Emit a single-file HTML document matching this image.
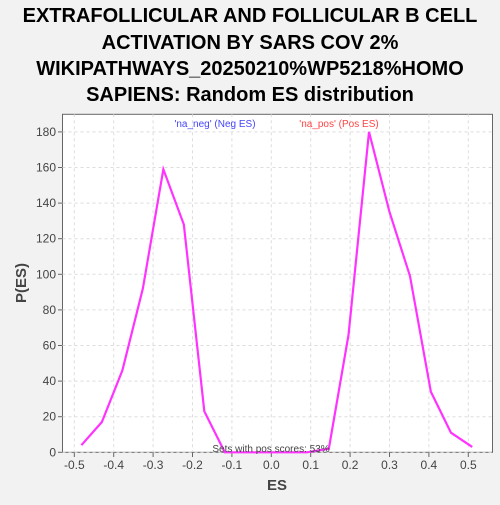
<!DOCTYPE html>
<html><head><meta charset="utf-8"><style>
body{margin:0;background:#f2f2f2;width:500px;height:500px;overflow:hidden;font-family:"Liberation Sans",sans-serif}
</style></head><body>
<svg width="500" height="500" style="font-family:'Liberation Sans',sans-serif">
<g font-weight="bold" font-size="20" text-anchor="middle" fill="#000">
<text x="250" y="22">EXTRAFOLLICULAR AND FOLLICULAR B CELL</text>
<text x="250" y="49">ACTIVATION BY SARS COV 2%</text>
<text x="250" y="75">WIKIPATHWAYS_20250210%WP5218%HOMO</text>
<text x="250" y="101">SAPIENS: Random ES distribution</text>
</g>
<rect x="62.5" y="114.3" width="430" height="338" fill="#fff" stroke="#666"/>
<g id="grid"></g>
<g id="axes"></g>
<polyline id="line" fill="none" stroke="#ff33ff" stroke-width="2.2"/>
<text x="215" y="127" font-size="10" fill="#4444ff" text-anchor="middle">'na_neg' (Neg ES)</text>
<text x="339" y="127" font-size="10" fill="#ff4444" text-anchor="middle">'na_pos' (Pos ES)</text>
<text x="271" y="452" font-size="10" fill="#444" text-anchor="middle">Sets with pos scores: 53%</text>
<text x="277" y="490" font-size="15" font-weight="bold" fill="#444" text-anchor="middle">ES</text>
<text transform="translate(26,283) rotate(-90)" font-size="15" font-weight="bold" fill="#444" text-anchor="middle">P(ES)</text>
</svg>
<script>
const esValues=[-0.482,-0.430,-0.378,-0.326,-0.274,-0.222,-0.170,-0.118,-0.066,-0.014,0.038,0.090,0.146,0.196,0.248,0.300,0.352,0.405,0.456,0.510];
const density=[4,17,46,92,159,128,23,0,0,0,0,0,2,66,180,135,99,34,11,3];
const xTicks=[-0.5,-0.4,-0.3,-0.2,-0.1,0.0,0.1,0.2,0.3,0.4,0.5];
const yTicks=[0,20,40,60,80,100,120,140,160,180];
const X=v=>271.3+v*394;
const Y=v=>452.3-v*1.78;
const ns="http://www.w3.org/2000/svg";
const grid=document.getElementById('grid'),axes=document.getElementById('axes');
function mk(tag,attrs,parent){const e=document.createElementNS(ns,tag);for(const k in attrs)e.setAttribute(k,attrs[k]);parent.appendChild(e);return e;}
xTicks.forEach(t=>{
 const gl=mk('line',{x1:X(t),x2:X(t),y1:114.3,y2:452.3,stroke:'#ddd','stroke-dasharray':'3,3'},grid);
 
 
 const tk=mk('line',{x1:X(t),x2:X(t),y1:452.3,y2:457,stroke:'#666'},axes);
 
 
 const tx=mk('text',{x:X(t),y:469,'font-size':'12',fill:'#444','text-anchor':'middle'},axes);
 tx.textContent=t.toFixed(1);
 
 
});
yTicks.forEach(t=>{
 const gl=mk('line',{x1:62.5,x2:492.5,y1:Y(t),y2:Y(t),stroke:'#ddd','stroke-dasharray':'3,3'},grid);
 
 
 const tk=mk('line',{x1:58,x2:62.5,y1:Y(t),y2:Y(t),stroke:'#666'},axes);
 
 
 const tx=mk('text',{x:56,y:Y(t)+4,'font-size':'12',fill:'#444','text-anchor':'end'},axes);
 tx.textContent=t;
 
 
});
document.getElementById('line').setAttribute('points',esValues.map((v,i)=>X(v)+','+Y(density[i])).join(' '));
</script>
</body></html>
